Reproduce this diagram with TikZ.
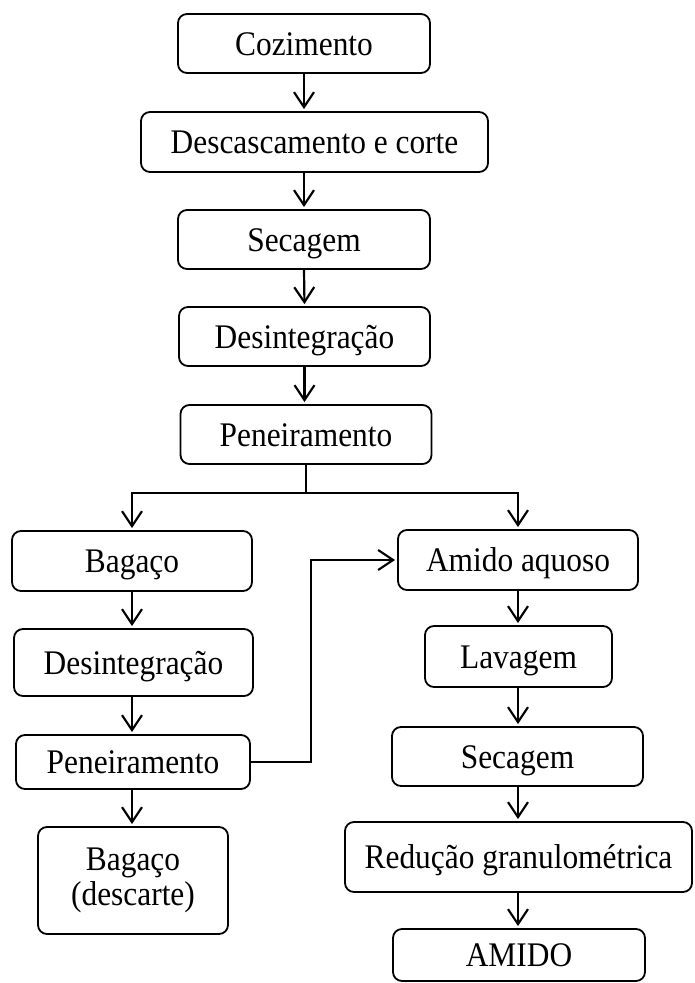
\documentclass[tikz,border=0pt]{standalone}
\usepackage{fontspec}
\setmainfont[FakeStretch=0.91]{Liberation Serif}
\usetikzlibrary{arrows.meta}

\tikzset{
	caixa/.style={draw, rounded corners=9pt, line width=1.8pt, inner sep=0pt, font=\fontsize{34.5}{35}\selectfont},
	etapa/.style={caixa, text height=23pt, text depth=0pt},
	seta/.style={line width=2.2pt, shorten >=2pt, -{Straight Barb[length=15pt,width=20pt]}},
	linha/.style={line width=2pt},
}

\begin{document}
\begin{tikzpicture}[x=1pt,y=-1pt]
	\useasboundingbox (0,0) rectangle (695,983);
	% coluna central
	\node[etapa, minimum width=252pt, minimum height=59pt] (coz) at (304,43.5) {Cozimento};
	\node[etapa, minimum width=347pt, minimum height=60pt] (desc) at (314.5,142) {Descascamento e corte};
	\node[etapa, minimum width=252pt, minimum height=59pt] (sec) at (304,239.5) {Secagem};
	\node[etapa, minimum width=251pt, minimum height=59pt] (des) at (304.5,336.5) {Desintegração};
	\node[etapa, minimum width=251pt, minimum height=59pt] (pen) at (306,434.5) {Peneiramento};
	% coluna esquerda
	\node[etapa, minimum width=240pt, minimum height=60pt] (bag) at (132,561) {Bagaço};
	\node[etapa, minimum width=239pt, minimum height=67pt] (desL) at (133.5,662.5) {Desintegração};
	\node[etapa, minimum width=234pt, minimum height=54pt] (penL) at (133,762) {Peneiramento};
	\node[caixa, align=center, minimum width=190pt, minimum height=107pt] (desct) at (133,880.5) {Bagaço\\(descarte)};
	% coluna direita
	\node[etapa, minimum width=240pt, minimum height=60pt] (ami) at (518,560) {Amido aquoso};
	\node[etapa, minimum width=187pt, minimum height=61pt] (lav) at (518.5,656.5) {Lavagem};
	\node[etapa, minimum width=251pt, minimum height=59pt] (secR) at (517.5,756.5) {Secagem};
	\node[etapa, minimum width=347pt, minimum height=70pt] (red) at (518.5,857) {Redução granulométrica};
	\node[etapa, minimum width=252pt, minimum height=52pt] (amido) at (519,955) {AMIDO};

	\draw[seta] (coz.south) -- (coz.south |- desc.north);
	\draw[seta] (coz.south |- desc.south) -- (sec.north);
	\draw[seta] (sec.south) -- (des.north);
	\draw[seta] (des.south) -- (des.south |- pen.north);

	% divisao
	\coordinate (div) at (306,493);
	\draw[linha] (pen.south) -- (div);
	\draw[seta] (div) -| (bag.north);
	\draw[seta] (div) -| (ami.north);

	\draw[seta] (bag.south) -- (bag.south |- desL.north);
	\draw[seta] (bag.south |- desL.south) -- (bag.south |- penL.north);
	\draw[seta] (bag.south |- penL.south) -- (bag.south |- desct.north);

	\coordinate (volta) at (311,762);
	\draw[seta] (penL.east) -- (volta) |- (ami.west);

	\draw[seta] (ami.south) -- (ami.south |- lav.north);
	\draw[seta] (ami.south |- lav.south) -- (ami.south |- secR.north);
	\draw[seta] (ami.south |- secR.south) -- (ami.south |- red.north);
	\draw[seta] (ami.south |- red.south) -- (ami.south |- amido.north);
\end{tikzpicture}
\end{document}
